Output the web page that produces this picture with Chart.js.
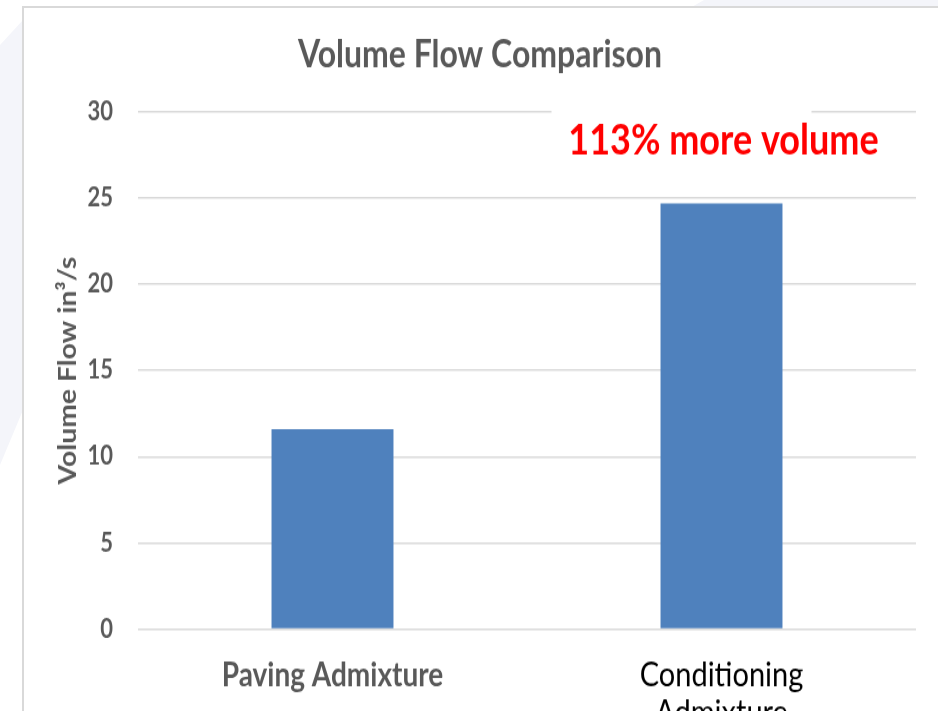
<!DOCTYPE html>
<html lang="en">
<head>
<meta charset="UTF-8">
<title>Volume Flow Comparison</title>
<script src="https://cdn.jsdelivr.net/npm/chart.js"></script>
<style>
  body {
    margin: 0;
    width: 938px;
    height: 711px;
    overflow: hidden;
    position: relative;
    background: #ffffff;
  }
  /* pale slide decoration behind the chart frame */
  .shade-left {
    position: absolute; left: 0; top: 0; width: 40px; height: 500px;
    background: #f4f5fa;
    clip-path: polygon(0 45px, 23px 20px, 23px 410px, 0 465px);
  }
  .shade-top {
    position: absolute; left: 690px; top: 0; width: 248px; height: 8px;
    background: #f4f5fa;
    clip-path: polygon(14px 0, 248px 0, 248px 8px, 0 8px);
  }
  .frame {
    position: absolute; left: 22px; top: 6px; width: 940px; height: 720px;
    border-left: 2px solid #d9d9d9;
    border-top: 2px solid #d9d9d9;
    background: #ffffff;
  }
  /* the chart image is stretched vertically */
  .chart-box {
    position: absolute; left: 0; top: 0; width: 938px; height: 603px;
    transform: scaleY(1.1791);
    transform-origin: 0 0;
  }
</style>
</head>
<body>
<div class="shade-left"></div>
<div class="shade-top"></div>
<div class="frame"></div>
<div class="chart-box">
  <canvas id="flowChart" width="938" height="603"></canvas>
</div>

<script>
  const categories = ['Paving Admixture', ['Conditioning', 'Admixture']];
  const volumeFlow = [11.6, 24.7];
  const yTicks = [0, 5, 10, 15, 20, 25, 30];
  const calloutText = '113% more volume';
  const calloutValue = 28.3;

  const GREY = '#595959';
  const FONT = 'Lato, "Open Sans", sans-serif';

  // red note above the taller bar, with a white box knocking out the top gridline
  const calloutPlugin = {
    id: 'callout',
    afterDatasetsDraw(chart) {
      const { ctx, scales: { x, y } } = chart;
      const cx = x.getPixelForValue(1);
      const gy = y.getPixelForValue(yTicks[yTicks.length - 1]);
      ctx.save();
      ctx.fillStyle = '#ffffff';
      ctx.fillRect(cx - 170, gy - 3, 260, 6);
      ctx.fillStyle = '#ff0000';
      ctx.font = 'bold 36px ' + FONT;
      ctx.textAlign = 'center';
      ctx.textBaseline = 'middle';
      ctx.fillText(calloutText, cx + 2, y.getPixelForValue(calloutValue));
      ctx.restore();
    }
  };

  new Chart(document.getElementById('flowChart'), {
    type: 'bar',
    data: {
      labels: categories,
      datasets: [{
        data: volumeFlow,
        backgroundColor: '#4f81bd',
        barPercentage: 0.3135,
        categoryPercentage: 1.0
      }]
    },
    options: {
      responsive: false,
      animation: false,
      layout: { padding: { top: 0, left: 44, right: 22, bottom: 0 } },
      plugins: {
        legend: { display: false },
        tooltip: { enabled: false },
        title: {
          display: true,
          text: 'Volume Flow Comparison',
          color: GREY,
          font: { family: FONT, size: 32, weight: 'bold', lineHeight: 1.2 },
          padding: { top: 27.4, bottom: 29.2 }
        }
      },
      scales: {
        x: {
          grid: { display: false, drawTicks: false },
          border: { display: false },
          ticks: {
            padding: 23,
            maxRotation: 0,
            autoSkip: false,
            color: ctx => ctx.index === 1 ? '#000000' : GREY,
            font: ctx => ctx.index === 1
              ? { family: FONT, size: 29, weight: 'normal', lineHeight: 1.1 }
              : { family: FONT, size: 28, weight: 'bold', lineHeight: 1.2 }
          },
          afterFit(scale) { scale.height = 603 - 533.5; }
        },
        y: {
          min: yTicks[0],
          max: yTicks[yTicks.length - 1],
          border: { display: false },
          grid: { color: '#d9d9d9', lineWidth: 1.6, drawTicks: false },
          ticks: {
            stepSize: yTicks[1] - yTicks[0],
            padding: 25,
            color: GREY,
            font: { family: FONT, size: 22, weight: 'bold' }
          },
          title: {
            display: true,
            text: 'Volume Flow in³/s',
            color: GREY,
            font: { family: FONT, size: 24, weight: 'bold', lineHeight: 1.2 },
            padding: { top: 9.6, bottom: 0 }
          },
          afterFit(scale) { scale.width = 94; }
        }
      }
    },
    plugins: [calloutPlugin]
  });
</script>
</body>
</html>
